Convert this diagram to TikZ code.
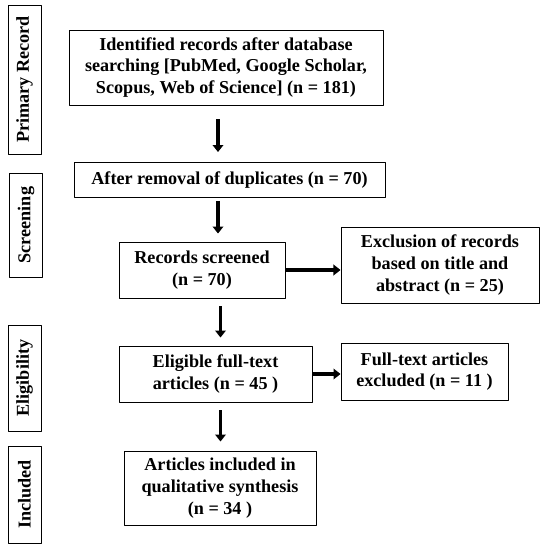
\documentclass[tikz,border=0pt]{standalone}
\usepackage{fontspec}
\setmainfont{Liberation Serif}
\usetikzlibrary{arrows.meta}
\tikzset{
	flowbox/.style={draw, line width=0.8pt, align=center, inner sep=2pt,
		font=\bfseries\fontsize{15.5}{18.5}\selectfont},
	sidebox/.style={draw, line width=0.8pt, rotate=90, inner sep=0pt,
		minimum height=0.99cm, font=\bfseries\fontsize{15.5}{17}\selectfont},
	arr/.style={line width=3pt, -{Triangle[length=6pt,width=9pt]}}
}
\begin{document}
\begin{tikzpicture}[x=0.03cm, y=-0.03cm, line join=round]
	\useasboundingbox (0,0) rectangle (548,550);
	% stage labels on the left
	\foreach \nm/\cx/\cy/\len/\txt in {prim/24.5/79.5/4.47/Primary Record,
		scr/26/225/3.12/Screening, eli/24.5/378/3.18/Eligibility,
		inc/24.5/494.5/2.91/Included}
	\node[sidebox, minimum width=\len cm] (\nm) at (\cx,\cy) {\txt};
	% main column
	\node[flowbox, minimum width=9.42cm, minimum height=2.25cm] (ident) at (226,67.5)
		{Identified records after database\\searching [PubMed, Google Scholar,\\Scopus, Web of Science] (n = 181)};
	\node[flowbox, minimum width=9.33cm, minimum height=1.05cm] (dedup) at (229.5,180)
		{After removal of duplicates (n = 70)};
	\node[flowbox, minimum width=4.98cm, minimum height=1.68cm] (screen) at (202,270)
		{Records screened\\(n = 70)};
	\node[flowbox, minimum width=5.79cm, minimum height=1.68cm] (elig) at (215.5,374)
		{Eligible full-text\\articles (n = 45 )};
	\node[flowbox, minimum width=5.76cm, minimum height=2.22cm] (incl) at (220,488)
		{Articles included in\\qualitative synthesis\\(n = 34 )};
	% exclusions
	\node[flowbox, minimum width=5.94cm, minimum height=2.28cm] (exclA) at (440,265)
		{Exclusion of records\\based on title and\\abstract (n = 25)};
	\node[flowbox, minimum width=5.01cm, minimum height=1.71cm] (exclB) at (424.5,371.5)
		{Full-text articles\\excluded (n = 11 )};
	% arrows
	\foreach \a/\b/\xx/\s/\t in {ident/dedup/218/0.42/0.30, dedup/screen/218/0.09/0.24,
		screen/elig/220.5/0.24/0.24, elig/incl/220.5/0.24/0.27}
	\draw[arr, shorten <=\s cm, shorten >=\t cm] (\a.south -| \xx,0) -- (\b.north -| \xx,0);
	\draw[arr] (screen.east) -- (screen.east -| exclA.west);
	\draw[arr] (elig.east) -- (elig.east -| exclB.west);
\end{tikzpicture}
\end{document}
